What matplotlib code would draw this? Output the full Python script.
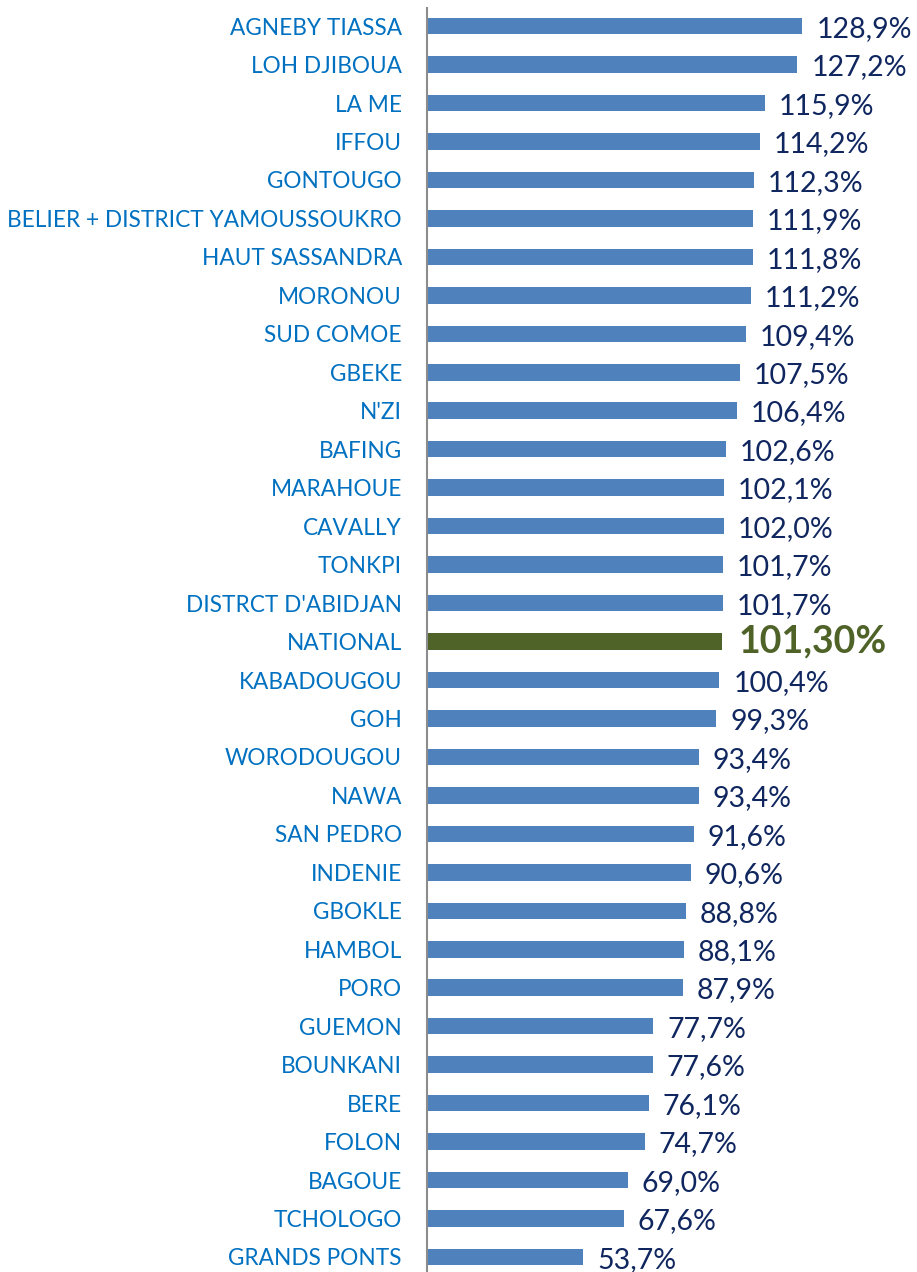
import matplotlib
matplotlib.use("Agg")
import matplotlib.pyplot as plt

regions = ["AGNEBY TIASSA", "LOH DJIBOUA", "LA ME", "IFFOU", "GONTOUGO",
           "BELIER + DISTRICT YAMOUSSOUKRO", "HAUT SASSANDRA", "MORONOU",
           "SUD COMOE", "GBEKE", "N'ZI", "BAFING", "MARAHOUE", "CAVALLY",
           "TONKPI", "DISTRCT D'ABIDJAN", "NATIONAL", "KABADOUGOU", "GOH",
           "WORODOUGOU", "NAWA", "SAN PEDRO", "INDENIE", "GBOKLE", "HAMBOL",
           "PORO", "GUEMON", "BOUNKANI", "BERE", "FOLON", "BAGOUE",
           "TCHOLOGO", "GRANDS PONTS"]
values = [128.9, 127.2, 115.9, 114.2, 112.3, 111.9, 111.8, 111.2, 109.4,
          107.5, 106.4, 102.6, 102.1, 102.0, 101.7, 101.7, 101.3, 100.4,
          99.3, 93.4, 93.4, 91.6, 90.6, 88.8, 88.1, 87.9, 77.7, 77.6, 76.1,
          74.7, 69.0, 67.6, 53.7]
labels = ["128,9%", "127,2%", "115,9%", "114,2%", "112,3%", "111,9%",
          "111,8%", "111,2%", "109,4%", "107,5%", "106,4%", "102,6%",
          "102,1%", "102,0%", "101,7%", "101,7%", "101,30%", "100,4%",
          "99,3%", "93,4%", "93,4%", "91,6%", "90,6%", "88,8%", "88,1%",
          "87,9%", "77,7%", "77,6%", "76,1%", "74,7%", "69,0%", "67,6%",
          "53,7%"]
highlight = "NATIONAL"

plt.rcParams['font.family'] = ['Lato', 'DejaVu Sans']

fig = plt.figure(figsize=(9.17, 12.72), dpi=100)
ax = fig.add_axes([427/917, 0.0, 1 - 427/917, 1 - 8/1272])

pos = list(range(len(regions)))
colors = ["#4F6228" if r == highlight else "#4F81BD" for r in regions]
ax.barh(pos, values, height=0.43, color=colors, edgecolor="none")

for p, v, lab, r in zip(pos, values, labels, regions):
    if r == highlight:
        ax.annotate(lab, (v, p), xytext=(12, 0), textcoords="offset points",
                    va="center", ha="left", fontsize=27, fontweight="bold",
                    color="#4F6228")
    else:
        ax.annotate(lab, (v, p), xytext=(10, -2), textcoords="offset points",
                    va="center", ha="left", fontsize=20.5, color="#10265F")

ax.set_yticks(pos)
ax.set_yticklabels(regions, fontsize=16.3, color="#0070C0")
ax.tick_params(axis="y", length=0, pad=18)
ax.set_xticks([])
ax.set_xlim(0, 490 / 2.912)
ax.set_ylim(len(regions) - 1 + 0.39, -0.47)
for s in ["top", "right", "bottom"]:
    ax.spines[s].set_visible(False)
ax.spines["left"].set_color("#8C8C8C")
ax.spines["left"].set_linewidth(1.5)
ax.patch.set_alpha(0)

fig.savefig("out.png", dpi=100, facecolor="white")
